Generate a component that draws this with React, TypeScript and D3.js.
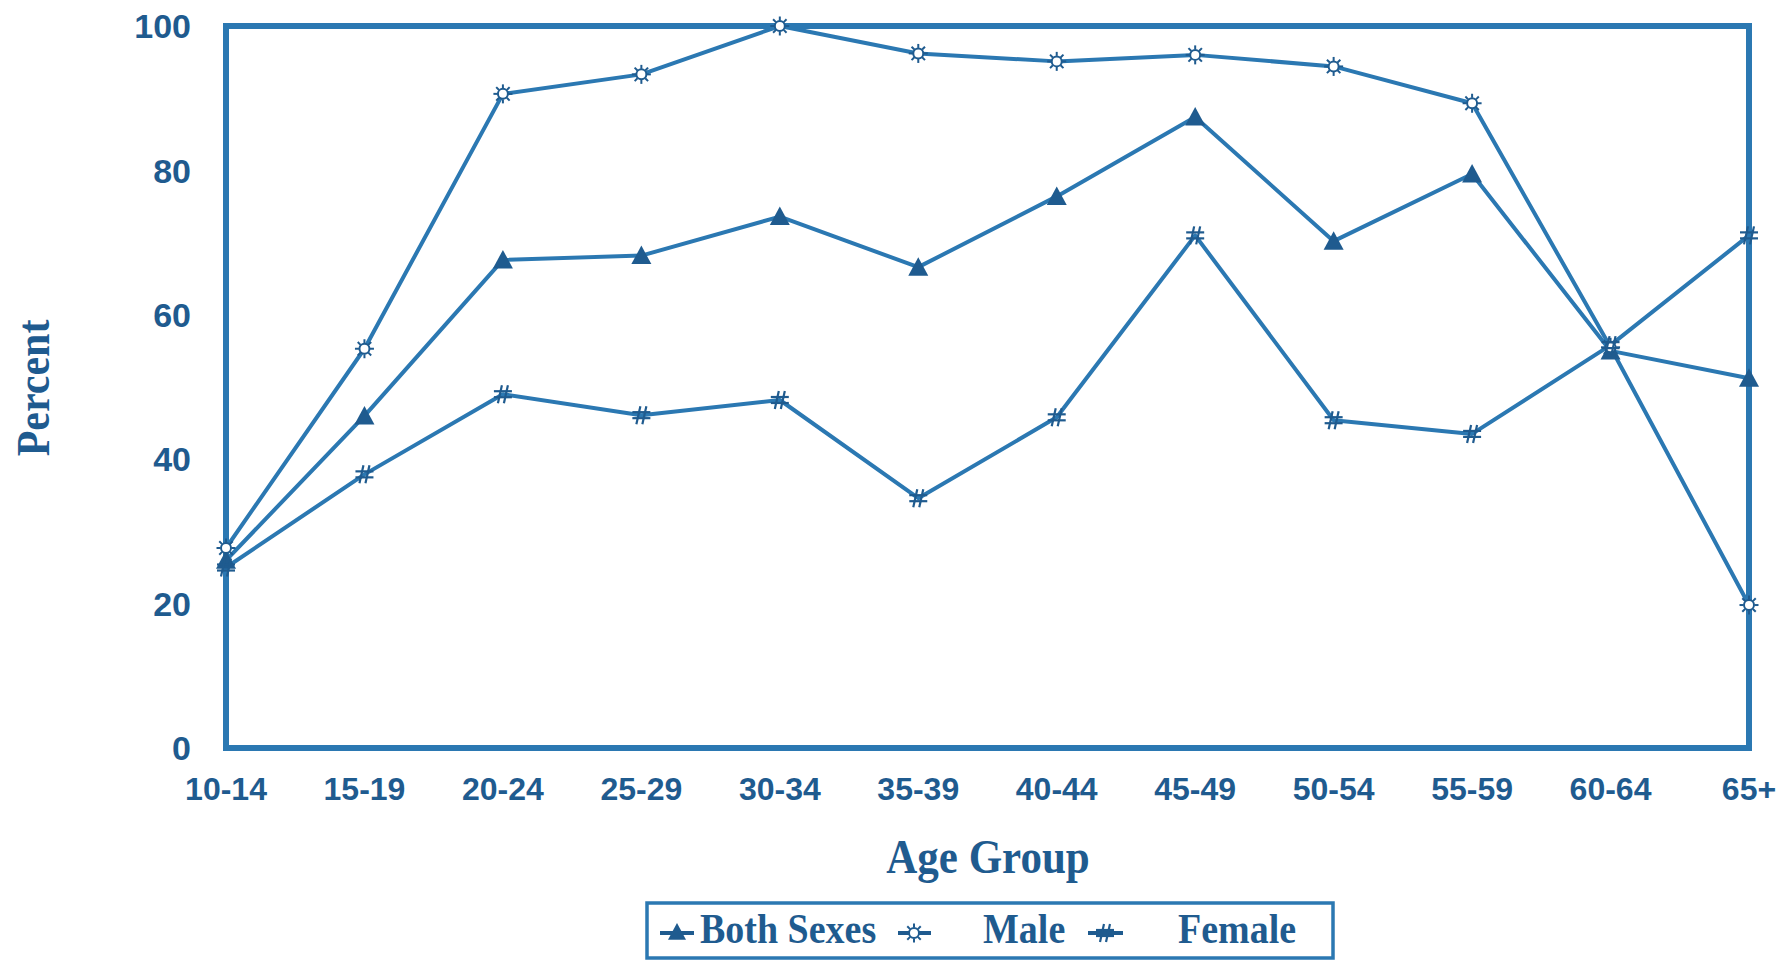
import React from "react";
import * as d3 from "d3";

const categories = ["10-14", "15-19", "20-24", "25-29", "30-34", "35-39", "40-44", "45-49", "50-54", "55-59", "60-64", "65+"];
const bothSexes = [26, 46, 67.6, 68.2, 73.6, 66.6, 76.4, 87.4, 70.2, 79.5, 55, 51.2];
const male = [27.7, 55.3, 90.6, 93.3, 100, 96.2, 95.1, 96, 94.4, 89.3, 55.5, 19.8];
const female = [25, 37.9, 49, 46.1, 48.2, 34.6, 45.8, 71, 45.4, 43.5, 55.8, 71];
const yTicks = [0, 20, 40, 60, 80, 100];
const seriesNames = ["Both Sexes", "Male", "Female"];

const LINE = "#2b78b2";
const DARK = "#1f5b8f";
const SANS = "'Liberation Sans', Arial, sans-serif";
const SERIF = "'Liberation Serif', 'Times New Roman', serif";

const W = 1788;
const H = 960;
const left = 226, right = 1749, top = 26, bottom = 748;

function Triangle({ x, y, s = 10 }: { x: number; y: number; s?: number }) {
  return <path d={`M${x},${y - s} L${x + s},${y + s * 0.85} L${x - s},${y + s * 0.85} Z`} fill={DARK} />;
}

function Sun({ x, y }: { x: number; y: number }) {
  const rays = d3.range(8).map((i) => {
    const a = (i * Math.PI) / 4;
    return (
      <line key={i} x1={x + Math.cos(a) * 5.5} y1={y + Math.sin(a) * 5.5} x2={x + Math.cos(a) * 9.5} y2={y + Math.sin(a) * 9.5}
        stroke={DARK} strokeWidth={2} />
    );
  });
  return (
    <g>
      <circle cx={x} cy={y} r={5} fill="#ffffff" stroke={DARK} strokeWidth={2} />
      {rays}
    </g>
  );
}

function Hash({ x, y }: { x: number; y: number }) {
  return (
    <g stroke={DARK} strokeWidth={2.2}>
      <line x1={x - 9} y1={y - 3} x2={x + 9} y2={y - 3} />
      <line x1={x - 9} y1={y + 3} x2={x + 9} y2={y + 3} />
      <line x1={x - 5} y1={y + 9} x2={x - 1} y2={y - 9} />
      <line x1={x + 1} y1={y + 9} x2={x + 5} y2={y - 9} />
    </g>
  );
}

export default function App() {
  const x = d3.scalePoint<string>().domain(categories).range([left, right]).padding(0);
  const y = d3.scaleLinear().domain([0, 100]).range([bottom, top]);
  const line = d3
    .line<number>()
    .x((_, i) => x(categories[i]) as number)
    .y((d) => y(d));

  const series = [bothSexes, male, female];

  return (
    <svg width={W} height={H} style={{ position: "absolute", left: 0, top: 0, background: "#fff" }}>
      <rect x={0} y={0} width={W} height={H} fill="#ffffff" />
      {/* y tick labels */}
      {yTicks.map((t) => (
        <text key={t} x={191} y={y(t)} dy="0.36em" textAnchor="end" fontFamily={SANS} fontWeight="bold" fontSize={34} fill={DARK}>
          {t}
        </text>
      ))}
      {/* x tick labels */}
      {categories.map((c) => (
        <text key={c} x={x(c)} y={800} textAnchor="middle" fontFamily={SANS} fontWeight="bold" fontSize={32} fill={DARK}>
          {c}
        </text>
      ))}
      {/* lines */}
      {series.map((s, i) => (
        <path key={i} d={line(s) || ""} fill="none" stroke={LINE} strokeWidth={4} strokeLinejoin="round" />
      ))}
      {/* frame */}
      <rect x={left} y={top} width={right - left} height={bottom - top} fill="none" stroke={LINE} strokeWidth={6} />
      {/* markers */}
      {bothSexes.map((v, i) => (
        <Triangle key={"b" + i} x={x(categories[i]) as number} y={y(v)} />
      ))}
      {male.map((v, i) => (
        <Sun key={"m" + i} x={x(categories[i]) as number} y={y(v)} />
      ))}
      {female.map((v, i) => (
        <Hash key={"f" + i} x={x(categories[i]) as number} y={y(v)} />
      ))}
      {/* axis titles */}
      <text transform="translate(988,873) scale(1,1.13)" textAnchor="middle" fontFamily={SERIF} fontWeight="bold" fontSize={43} fill={DARK}>
        Age Group
      </text>
      <text transform="translate(49,388) rotate(-90) scale(1,1.13)" textAnchor="middle" fontFamily={SERIF} fontWeight="bold" fontSize={42} fill={DARK}>
        Percent
      </text>
      {/* legend */}
      <rect x={647} y={903} width={686} height={55} fill="#ffffff" stroke={LINE} strokeWidth={3.5} />
      <line x1={660} y1={933} x2={694} y2={933} stroke={DARK} strokeWidth={4} />
      <Triangle x={677} y={932} s={9} />
      <text transform="translate(700,943) scale(1,1.12)" fontFamily={SERIF} fontWeight="bold" fontSize={38} fill={DARK}>
        {seriesNames[0]}
      </text>
      <line x1={898} y1={933} x2={931} y2={933} stroke={DARK} strokeWidth={4} />
      <Sun x={914} y={933} />
      <text transform="translate(983,943) scale(1,1.12)" fontFamily={SERIF} fontWeight="bold" fontSize={38} fill={DARK}>
        {seriesNames[1]}
      </text>
      <line x1={1088} y1={933} x2={1123} y2={933} stroke={DARK} strokeWidth={4} />
      <Hash x={1105} y={933} />
      <text transform="translate(1178,943) scale(1,1.12)" fontFamily={SERIF} fontWeight="bold" fontSize={38} fill={DARK}>
        {seriesNames[2]}
      </text>
    </svg>
  );
}
